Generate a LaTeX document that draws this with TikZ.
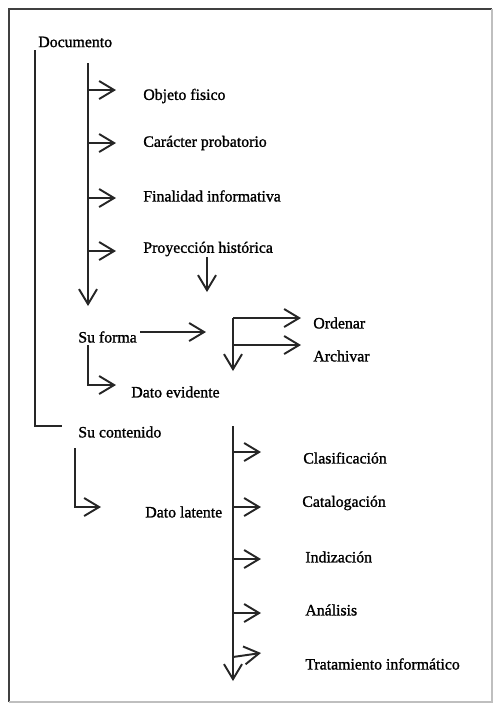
\documentclass[tikz,border=0pt]{standalone}
\usepackage{fontspec}
\setmainfont{Liberation Serif}[BoldFont={Liberation Serif},BoldFeatures={FakeBold=1.3}]
\usetikzlibrary{arrows.meta}
\begin{document}
\begin{tikzpicture}[x=0.02cm,y=-0.02cm,
  lbl/.style={anchor=west,inner sep=0pt,font=\fontsize{9}{10}\selectfont\bfseries},
  ln/.style={line width=1.1pt,black!85},
  arr/.style={ln,-{Straight Barb[length=0.3cm,width=0.36cm,line width=1.1pt]}}]
\useasboundingbox (0,0) rectangle (493,704);
% frame
\draw[line width=1.2pt,black!75] (9,702) -- (9,9) -- (492,9);
\draw[line width=0.8pt,black!25] (492,9) -- (492,702) -- (9,702);
% labels
\node[lbl] (doc) at (38,42) {Documento};
\node[lbl] (obj) at (143,96) {Objeto fisico};
\node[lbl] (car) at (143,143) {Carácter probatorio};
\node[lbl] (fin) at (143,196) {Finalidad informativa};
\node[lbl] (pro) at (143,249) {Proyección histórica};
\node[lbl] (forma) at (78,337) {Su forma};
\node[lbl] (ord) at (313,323) {Ordenar};
\node[lbl] (arc) at (313,356) {Archivar};
\node[lbl] (dev) at (131,392) {Dato evidente};
\node[lbl] (cont) at (78,432) {Su contenido};
\node[lbl] (dlat) at (145,512) {Dato latente};
\node[lbl] (cla) at (303,458) {Clasificación};
\node[lbl] (cat) at (302,503) {Catalogación};
\node[lbl] (ind) at (305,557) {Indización};
\node[lbl] (ana) at (305,610) {Análisis};
\node[lbl] (tra) at (305,664) {Tratamiento informático};
% coordinates
\coordinate (a1) at (35,50);
\coordinate (a2) at (35,426);
\coordinate (a3) at (62,426);
\coordinate (b1) at (88,63);
\coordinate (b2) at (88,306);
\coordinate (c1) at (207,257);
\coordinate (c2) at (207,292);
\coordinate (d1) at (140,332);
\coordinate (d2) at (206,332);
\coordinate (e1) at (233,318);
\coordinate (e2) at (233,371);
\coordinate (e3) at (233,345);
\coordinate (f1) at (88,345);
\coordinate (f2) at (88,385);
\coordinate (g1) at (75,448);
\coordinate (g2) at (75,507);
\coordinate (h1) at (233,426);
\coordinate (h2) at (233,681);
% main bracket Documento -> Su contenido
\draw[ln] (a1) -- (a2) -- (a3);
% second spine
\draw[arr] (b1) -- (b2);
\foreach \y in {90,143,198,251} \draw[arr] (88,\y) -- (116,\y);
\draw[arr] (c1) -- (c2);
\draw[arr] (d1) -- (d2);
\draw[arr] (e1) -- (e2);
\draw[arr] (e1) -- (301,318);
\draw[arr] (e3) -- (301,345);
\draw[arr] (f1) -- (f2) -- (116,385);
\draw[arr] (g1) -- (g2) -- (101,507);
\draw[arr] (h1) -- (h2);
\foreach \y in {452,507,559,613} \draw[arr] (233,\y) -- (261,\y);
\draw[arr] (233,657) -- (261,653);
\end{tikzpicture}
\end{document}
